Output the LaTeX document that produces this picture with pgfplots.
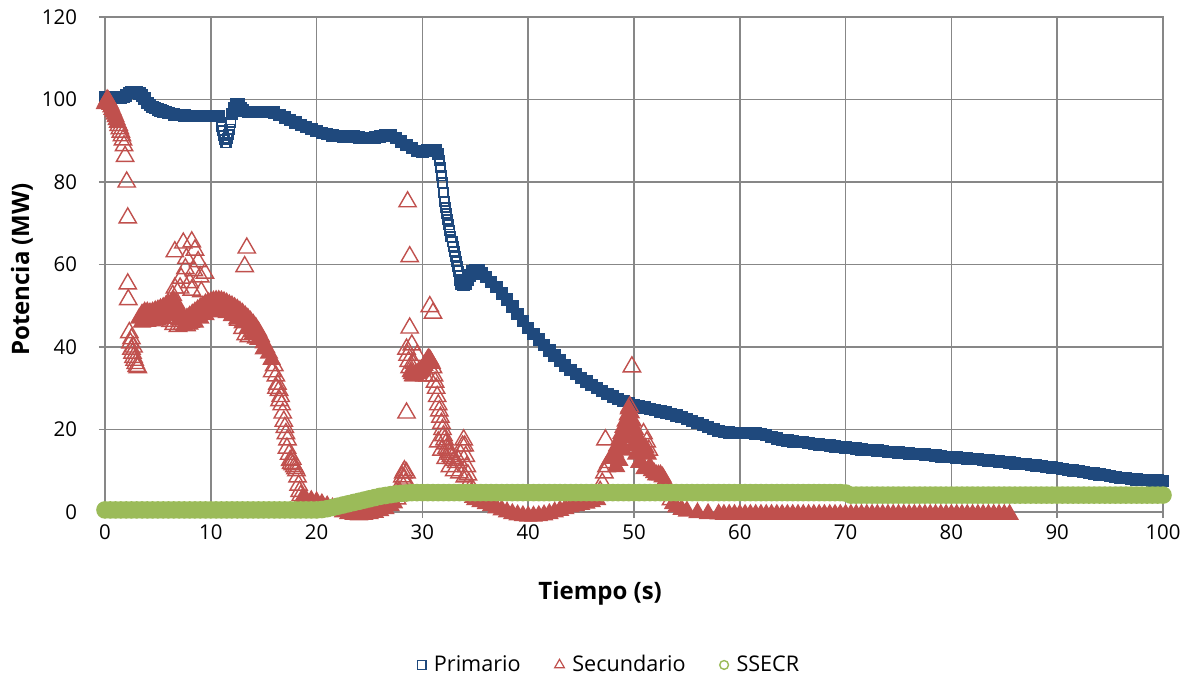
\documentclass[border=0pt]{standalone}
\usepackage{fontspec}
\setmainfont{Open Sans}
\usepackage{pgfplots}
\pgfplotsset{compat=1.18}
\definecolor{prim}{HTML}{1F497D}
\definecolor{secu}{HTML}{C0504D}
\definecolor{ssec}{HTML}{9BBB59}
\definecolor{gridgray}{HTML}{878787}
\pgfplotsset{
  primopen/.style={only marks, mark=square, mark size=2.3pt, color=prim, line width=0.9pt},
  primfill/.style={only marks, mark=square*, mark size=2.8pt, color=prim, fill=prim, line width=0.6pt},
  secopen/.style={only marks, mark=triangle, mark size=5pt, color=secu, line width=0.7pt},
  secfill/.style={only marks, mark=triangle*, mark size=4.8pt, color=secu, fill=secu, line width=0.6pt},
  ssefill/.style={only marks, mark=*, mark size=4.1pt, color=ssec, fill=ssec, line width=0.6pt},
}
\begin{document}
\begin{tikzpicture}
\begin{axis}[
  at={(0,0)}, anchor=south west,
  scale only axis, width=529pt, height=247.5pt,
  xmin=0, xmax=100, ymin=0, ymax=120,
  xtick={0,10,...,100}, ytick={0,20,...,120},
  xtick pos=left, ytick pos=left,
  tick align=outside, major tick length=3pt,
  grid=major,
  major grid style={gridgray, line width=0.75pt},
  axis line style={gridgray, line width=0.75pt},
  tick style={gridgray, line width=0.75pt},
  /pgf/number format/assume math mode=true,
  ticklabel style={font=\fontsize{10.2}{12}\selectfont},
  yticklabel style={xshift=-7.5pt},
  every axis x label/.style={at={(axis description cs:0.468,0)}, yshift=-40.5pt, anchor=center},
  every axis y label/.style={at={(axis description cs:0,0.49)}, xshift=-41.5pt, rotate=90, anchor=center},
  label style={font=\bfseries\fontsize{12}{14}\selectfont},
  xlabel={Tiempo (s)},
  ylabel={Potencia (MW)},
  clip=false,
  legend columns=3,
  legend style={draw=none, at={(axis description cs:0.4775,-0.309)}, anchor=center,
    font=\fontsize{10.8}{12}\selectfont,
    /tikz/every odd column/.append style={column sep=2pt},
    /tikz/every even column/.append style={column sep=15pt}},
]
% ---------- Primario ----------
\addplot[primfill,
  legend image code/.code={\draw[prim, mark=square, mark size=2.2pt, line width=0.6pt] plot coordinates {(0.15cm,0cm)};}]
coordinates {
(0,100.5)(0.25,100.5)(0.5,100.5)(0.75,100.4)(1,100.5)(1.25,100.5)(1.5,100.5)(1.75,100.6)(2,101)(2.25,101.6)
(2.5,101.8)(2.75,101.8)(3,101.7)(3.25,101.5)(3.5,101)(3.75,100.2)(4,99.2)(4.25,98.6)(4.5,98.2)(4.75,97.9)
(5,97.6)(5.25,97.3)(5.5,97.1)(5.75,96.9)(6,96.7)(6.5,96.4)(7,96.2)(7.5,96.1)(8,96)(8.5,96)(9,96)(9.5,96)
(10,96)(10.5,96)(10.8,96)
};
\addlegendentry{Primario}
\addplot[primopen, forget plot] coordinates {
(11,93.5)(11.1,92.5)(11.2,91.2)(11.3,90.2)(11.4,89.5)(11.5,89.5)(11.6,90.5)
(11.7,91.5)(11.8,92.8)(11.9,94.5)
};
\addplot[primfill, forget plot] coordinates {
(12,96.5)(12.2,98)(12.4,98.8)(12.6,98.8)(12.8,98)(13,97.3)(13.5,97)
(14,97)(14.5,97)(15,97)(15.5,97)(16,96.8)(16.5,96.3)(17,95.6)(17.5,95)(18,94.4)(18.5,93.8)(19,93.3)
(19.5,92.8)(20,92.3)(20.5,91.9)(21,91.6)(21.5,91.3)(22,91.1)(22.5,91)(23,91)(23.5,91)(24,90.8)(24.5,90.7)
(25,90.7)(25.5,90.8)(26,91)(26.5,91.3)(27,91.3)(27.5,90.6)(28,89.8)(28.5,89)(29,88.3)(29.5,87.5)(30,87.3)
(30.5,87.6)(31,87.8)(31.3,87.6)(31.5,86.8)
};
\addplot[primopen, forget plot] coordinates {
(31.6,85.3)(31.7,83.5)(31.8,81.5)(31.9,79.8)(32,77.5)(32.1,75.2)
(32.2,73.8)(32.3,72.4)(32.4,70.9)(32.5,69.6)(32.6,68.2)(32.7,66.7)(32.8,65.5)(32.9,64.3)(33,63.1)(33.1,61.9)
(33.2,60.7)(33.3,59.5)(33.4,58.4)(33.5,57.3)
};
\addplot[primfill, forget plot] coordinates {
(33.6,56.2)(33.7,55.3)(33.9,55)(34.1,55.3)(34.3,56.2)(34.5,57.3)
(34.7,58.3)(35,58.7)(35.3,58.5)(35.6,57.8)(36,57)(36.5,55.8)(37,54.5)(37.5,53)(38,51.5)(38.5,49.8)(39,48)
(39.5,46.3)(40,44.6)(40.5,43.2)(41,41.8)(41.5,40.5)(42,39.2)(42.5,37.9)(43,36.7)(43.5,35.5)(44,34.4)
(44.5,33.4)(45,32.5)(45.5,31.6)(46,30.8)(46.5,30)(47,29.3)(47.5,28.6)(48,28)(48.5,27.4)(49,26.9)(49.5,26.4)
(50,26)(50.5,25.6)(51,25.3)(51.5,25)(52,24.7)(52.5,24.4)(53,24.1)(53.5,23.8)(54,23.4)(54.5,23)(55,22.6)
(55.5,22.1)(56,21.6)(56.5,21.1)(57,20.6)(57.5,20.1)(58,19.7)(58.5,19.4)(59,19.3)(59.5,19.2)(60,19.2)
(60.5,19.2)(61,19.1)(61.5,19)(62,18.9)(62.5,18.6)(63,18.2)(63.5,17.8)(64,17.5)(64.5,17.3)(65,17.1)(65.5,17)
(66,16.9)(66.5,16.7)(67,16.5)(67.5,16.4)(68,16.2)(68.5,16.1)(69,15.9)(69.5,15.8)(70,15.6)(70.5,15.5)
(71,15.4)(71.5,15.2)(72,15.1)(72.5,15)(73,14.9)(73.5,14.8)(74,14.6)(74.5,14.5)(75,14.4)(75.5,14.3)(76,14.2)
(76.5,14.1)(77,14)(77.5,13.9)(78,13.8)(78.5,13.7)(79,13.5)(79.5,13.4)(80,13.3)(80.5,13.2)(81,13.1)(81.5,13)
(82,12.9)(82.5,12.8)(83,12.6)(83.5,12.5)(84,12.4)(84.5,12.2)(85,12.1)(85.5,12)(86,11.8)(86.5,11.7)(87,11.6)
(87.5,11.4)(88,11.3)(88.5,11.1)(89,10.9)(89.5,10.8)(90,10.6)(90.5,10.4)(91,10.2)(91.5,10.1)(92,9.9)
(92.5,9.7)(93,9.5)(93.5,9.3)(94,9.1)(94.5,8.9)(95,8.7)(95.5,8.5)(96,8.3)(96.5,8.2)(97,8)(97.5,7.9)(98,7.8)
(98.5,7.7)(99,7.6)(99.5,7.6)(100,7.5)
};
% ---------- Secundario ----------
\addplot[secopen,
  legend image code/.code={\draw[secu, mark=triangle, mark size=2.8pt, line width=0.6pt] plot coordinates {(0.15cm,0cm)};}]
coordinates {
(1.3,93.7)(1.4,92.9)(1.5,92.1)(1.6,91.2)(1.7,90.2)(1.8,88.8)(1.9,86.2)(2.05,80)
(2.15,71.3)(2.15,55.3)(2.2,51.5)(2.3,43.5)(2.4,41)(2.5,39.5)(2.6,38.5)(2.7,37.5)(2.8,36.8)(2.9,36)(3,35.3)
(3.1,35)(2.5,42)(2.7,40)
(6.6,63.1)(7.4,65.2)(8.2,65.5)(8.5,63.5)(7.7,61.5)(8.8,60.7)(9.45,57.9)(7.2,56.7)(7.1,54.3)(6.6,54.3)
(8.2,53.8)(9.1,53.4)(8,55.6)(8.4,58.5)(9,57)(7.6,59)(6.4,52.5)(6.5,45.5)(6.9,45)(7.3,45.5)(7.7,45.2)
(8.1,46)(5.9,47)(6.2,46.2)(12.6,46.5)(13,44.5)(13.3,43)(13.6,42.5)(14,43.8)(14.3,42.2)(13.2,59.5)(13.4,64)
(16,35.5)(16.15,33)(16.3,31)(16.45,29.5)(16.6,28)(16.7,26)(16.8,24)(16.9,22)(17,20.5)(17.1,19)
(17.25,17.5)(17.4,14)(17.5,12.5)(17.6,11.8)(17.75,11.5)(17.9,11)(18,10.5)(18.1,10)(18.2,8.5)(18.3,6.5)
(18.4,5)(18.5,4)(15.8,34)(16.2,30)(16.5,27)(17.2,15.5)(17.7,12.8)
(27.6,3.2)(27.8,5)(28,7)(28.1,8.5)(28.2,9.5)(28.3,10)(28.3,8)(28.5,9.5)(28.4,7)
(28.6,75.2)(28.8,61.9)(30.7,49.8)(31,48.2)(28.8,44.6)(28.5,24)(29,40.5)
(28.5,39.5)(28.6,38)(28.7,36.5)(28.8,35)(29.5,38)(29.2,36)(30.5,33)(30.2,33)
(31,35)(31.1,33)(31.2,31.5)(31.3,30)(31.4,28)(31.5,26)
(31.6,24.5)(31.7,23)(31.8,21.5)(31.9,20)(32,18.5)(32.1,17.5)(32.2,16.5)(32.3,15.5)(32.4,15)(32.5,14.5)
(32.6,14)(32.7,13.5)(32.8,13)(33,12.5)(33.2,12)(33.4,12.5)(33.6,14)(33.8,16)(33.9,17.5)(34,16)(34.1,13.5)
(34.2,11)(34.3,9)(34.4,7)(34.5,5.5)(34.6,4.5)
(31.5,17)(31.8,15)(32.2,13)(32.6,11)(33,10)(33.5,9.5)(34,8.5)
(46.8,5)(47,7)(47.2,9.5)(47.4,11)(47.6,12)
(47.3,17.5)(49.8,35.2)(49.6,25.5)
(50.9,19)(51.2,17)(51.4,15)(53.1,6)(53.3,4.5)(53.5,3)
};
\addlegendentry{Secundario}
\addplot[secfill, forget plot] coordinates {
(0,99)(0.1,99.5)(0.2,100)(0.3,99.8)(0.4,99.3)(0.5,98.8)(0.6,98.2)(0.7,97.6)(0.8,97)(0.9,96.4)(1,95.8)
(1.1,95.1)(1.2,94.4)
(3.25,47)(3.5,48)(3.75,48.5)(4,48.5)(4.25,48.3)(4.5,48.5)(4.75,48.8)(5,49)
(5.25,49.3)(5.5,49.6)(5.75,50)(6,50.3)(6.25,50.8)(6.5,51.2)(6.75,50.5)(7,49)(7.25,47.5)(7.5,47)(7.75,47)
(8,47.5)(8.25,48)(8.5,48.5)(8.75,49)(9,49.5)(9.25,50)(9.5,50.5)(9.75,50.8)(10,51)(10.25,51.2)(10.5,51.3)
(10.75,51.3)(11,51.2)(11.25,51)(11.5,50.7)(11.75,50.3)(12,50)(12.25,49.6)(12.5,49.2)(12.75,48.7)(13,48.2)
(13.25,47.6)(13.5,47)(13.75,46.3)(14,45.6)(14.25,44.8)(14.5,43.8)(14.75,42.5)(15,41)(15.25,39.8)(15.5,38.5)
(15.75,37)
(3.5,46)(4,46.2)(4.5,46.3)(5,46.5)(5.5,47)(6,47.6)(6.5,48)(7,46.5)(7.5,45.2)(8,45.5)(8.5,46)(9,47)
(9.5,47.8)(10,48.5)(10.5,48.8)(11,48.7)(11.5,48.3)(12,47.6)(12.5,46.8)(13,45.8)(13.5,44.6)(14,43.3)
(14.5,41.8)(15,39.5)
(18.7,3.5)(19,3)(19.5,2.8)(20,2.5)(20.5,2)(21,1.5)(21.5,1)(22,0.5)(22.5,0)(23,-0.4)
(23.5,-0.6)(24,-0.7)(24.5,-0.6)(25,-0.4)(25.5,-0.1)(26,0.3)(26.5,0.8)(27,1.5)(27.3,2.2)
(28.9,34)(29,33.5)(29.1,33)(29.2,33)(29.3,33.2)(29.4,33.5)
(29.5,33.5)(29.6,33.8)(29.7,34)(29.8,34)(29.9,34.3)(30,34.5)(30.1,35)(30.2,35.5)(30.3,36)(30.4,36.5)
(30.5,37)(30.6,37.2)(30.7,37)(30.8,36.5)(30.9,36)
(34.8,3.5)(35,3)(35.5,2.5)(36,2)(36.5,1.5)(37,1)(37.5,0.5)
(38,0)(38.5,-0.4)(39,-0.7)(39.5,-0.9)(40,-1)(40.5,-1)(41,-0.9)(41.5,-0.7)(42,-0.4)(42.5,0)(43,0.4)
(43.5,0.8)(44,1.2)(44.5,1.5)(45,1.8)(45.5,2.1)(46,2.5)(46.5,3)
(47.8,13)(48,13.5)(48.2,14.5)(48.4,16)(48.6,17.5)(48.8,19)(49,20.5)(49.2,22)
(49.4,23.5)(49.5,25)(49.7,24)(49.9,22)(50.1,20)(50.3,18.5)(50.5,17)(50.7,16)(50.9,15.5)(51.1,15.5)(51.3,14)
(51.5,11)(51.7,10)(51.9,9.5)(52.1,9)(52.3,9)(52.5,9)(52.7,8.5)(52.9,7.5)
(48.3,11)(48.6,12.5)(49,15)(49.3,18)(49.6,20)(49.9,16)(50.2,14)(50.5,12)(51,10.5)
(53.7,2)(54,1.2)(54.5,0.6)(55,0.2)(56,-0.2)(57,-0.4)(58,-0.5)
(58.5,-0.6)(59,-0.6)(59.5,-0.6)(60,-0.6)(60.5,-0.6)(61,-0.6)(61.5,-0.6)(62,-0.6)(62.5,-0.6)(63,-0.6)
(63.5,-0.6)(64,-0.6)(64.5,-0.6)(65,-0.6)(65.5,-0.6)(66,-0.6)(66.5,-0.6)(67,-0.6)(67.5,-0.6)(68,-0.6)
(68.5,-0.6)(69,-0.6)(69.5,-0.6)(70,-0.6)(70.5,-0.6)(71,-0.6)(71.5,-0.6)(72,-0.6)(72.5,-0.6)(73,-0.6)
(73.5,-0.6)(74,-0.6)(74.5,-0.6)(75,-0.6)(75.5,-0.6)(76,-0.6)(76.5,-0.6)(77,-0.6)(77.5,-0.6)(78,-0.6)
(78.5,-0.6)(79,-0.6)(79.5,-0.6)(80,-0.6)(80.5,-0.6)(81,-0.6)(81.5,-0.6)(82,-0.6)(82.5,-0.6)(83,-0.6)
(83.5,-0.6)(84,-0.6)(84.5,-0.6)(85,-0.6)(85.5,-0.6)
};
% ---------- SSECR ----------
\addplot[ssefill,
  legend image code/.code={\draw[ssec, mark=o, mark size=2.2pt, line width=0.7pt] plot coordinates {(0.15cm,0cm)};}]
coordinates {
(0,0.5)(0.5,0.5)(1,0.5)(1.5,0.5)(2,0.5)(2.5,0.5)(3,0.5)(3.5,0.5)(4,0.5)(4.5,0.5)(5,0.5)(5.5,0.5)(6,0.5)
(6.5,0.5)(7,0.5)(7.5,0.5)(8,0.5)(8.5,0.5)(9,0.5)(9.5,0.5)(10,0.5)(10.5,0.5)(11,0.5)(11.5,0.5)(12,0.5)
(12.5,0.5)(13,0.5)(13.5,0.5)(14,0.5)(14.5,0.5)(15,0.5)(15.5,0.5)(16,0.5)(16.5,0.5)(17,0.5)(17.5,0.5)
(18,0.5)(18.5,0.5)(19,0.5)(19.5,0.5)(20,0.5)(20.5,0.6)(21,0.8)(21.5,1.1)(22,1.4)(22.5,1.7)(23,2)(23.5,2.3)
(24,2.6)(24.5,2.9)(25,3.2)(25.5,3.5)(26,3.8)(26.5,4)(27,4.2)(27.5,4.4)(28,4.5)(28.5,4.6)(29,4.7)(29.5,4.7)
(30,4.7)(30.5,4.7)(31,4.7)(31.5,4.7)(32,4.7)(32.5,4.7)(33,4.7)(33.5,4.7)(34,4.7)(34.5,4.7)(35,4.7)
(35.5,4.7)(36,4.7)(36.5,4.7)(37,4.7)(37.5,4.7)(38,4.7)(38.5,4.7)(39,4.7)(39.5,4.7)(40,4.7)(40.5,4.7)
(41,4.7)(41.5,4.7)(42,4.7)(42.5,4.7)(43,4.7)(43.5,4.7)(44,4.7)(44.5,4.7)(45,4.7)(45.5,4.7)(46,4.7)
(46.5,4.7)(47,4.7)(47.5,4.7)(48,4.7)(48.5,4.7)(49,4.7)(49.5,4.7)(50,4.7)(50.5,4.7)(51,4.7)(51.5,4.7)
(52,4.7)(52.5,4.7)(53,4.7)(53.5,4.7)(54,4.7)(54.5,4.7)(55,4.7)(55.5,4.7)(56,4.7)(56.5,4.7)(57,4.7)
(57.5,4.7)(58,4.7)(58.5,4.7)(59,4.7)(59.5,4.7)(60,4.7)(60.5,4.7)(61,4.7)(61.5,4.7)(62,4.7)(62.5,4.7)
(63,4.7)(63.5,4.7)(64,4.7)(64.5,4.7)(65,4.7)(65.5,4.7)(66,4.7)(66.5,4.7)(67,4.7)(67.5,4.7)(68,4.7)
(68.5,4.7)(69,4.7)(69.5,4.7)(70,4.6)(70.5,4.1)(71,4.1)(71.5,4.1)(72,4.1)(72.5,4.1)(73,4.1)(73.5,4.1)
(74,4.1)(74.5,4.1)(75,4.1)(75.5,4.1)(76,4.1)(76.5,4.1)(77,4.1)(77.5,4.1)(78,4.1)(78.5,4.1)(79,4.1)
(79.5,4.1)(80,4.1)(80.5,4.1)(81,4.1)(81.5,4.1)(82,4.1)(82.5,4.1)(83,4.1)(83.5,4.1)(84,4.1)(84.5,4.1)
(85,4.1)(85.5,4.1)(86,4.1)(86.5,4.1)(87,4.1)(87.5,4.1)(88,4.1)(88.5,4.1)(89,4.1)(89.5,4.1)(90,4.1)
(90.5,4.1)(91,4.1)(91.5,4.1)(92,4.1)(92.5,4.1)(93,4.1)(93.5,4.1)(94,4.1)(94.5,4.1)(95,4.1)(95.5,4.1)
(96,4.1)(96.5,4.1)(97,4.1)(97.5,4.1)(98,4.1)(98.5,4.1)(99,4.1)(99.5,4.1)(100,4.1)
};
\addlegendentry{SSECR}
\end{axis}
\pgfresetboundingbox
\useasboundingbox (-52.5pt,-81.5pt) rectangle (543pt,256pt);
\end{tikzpicture}
\end{document}
